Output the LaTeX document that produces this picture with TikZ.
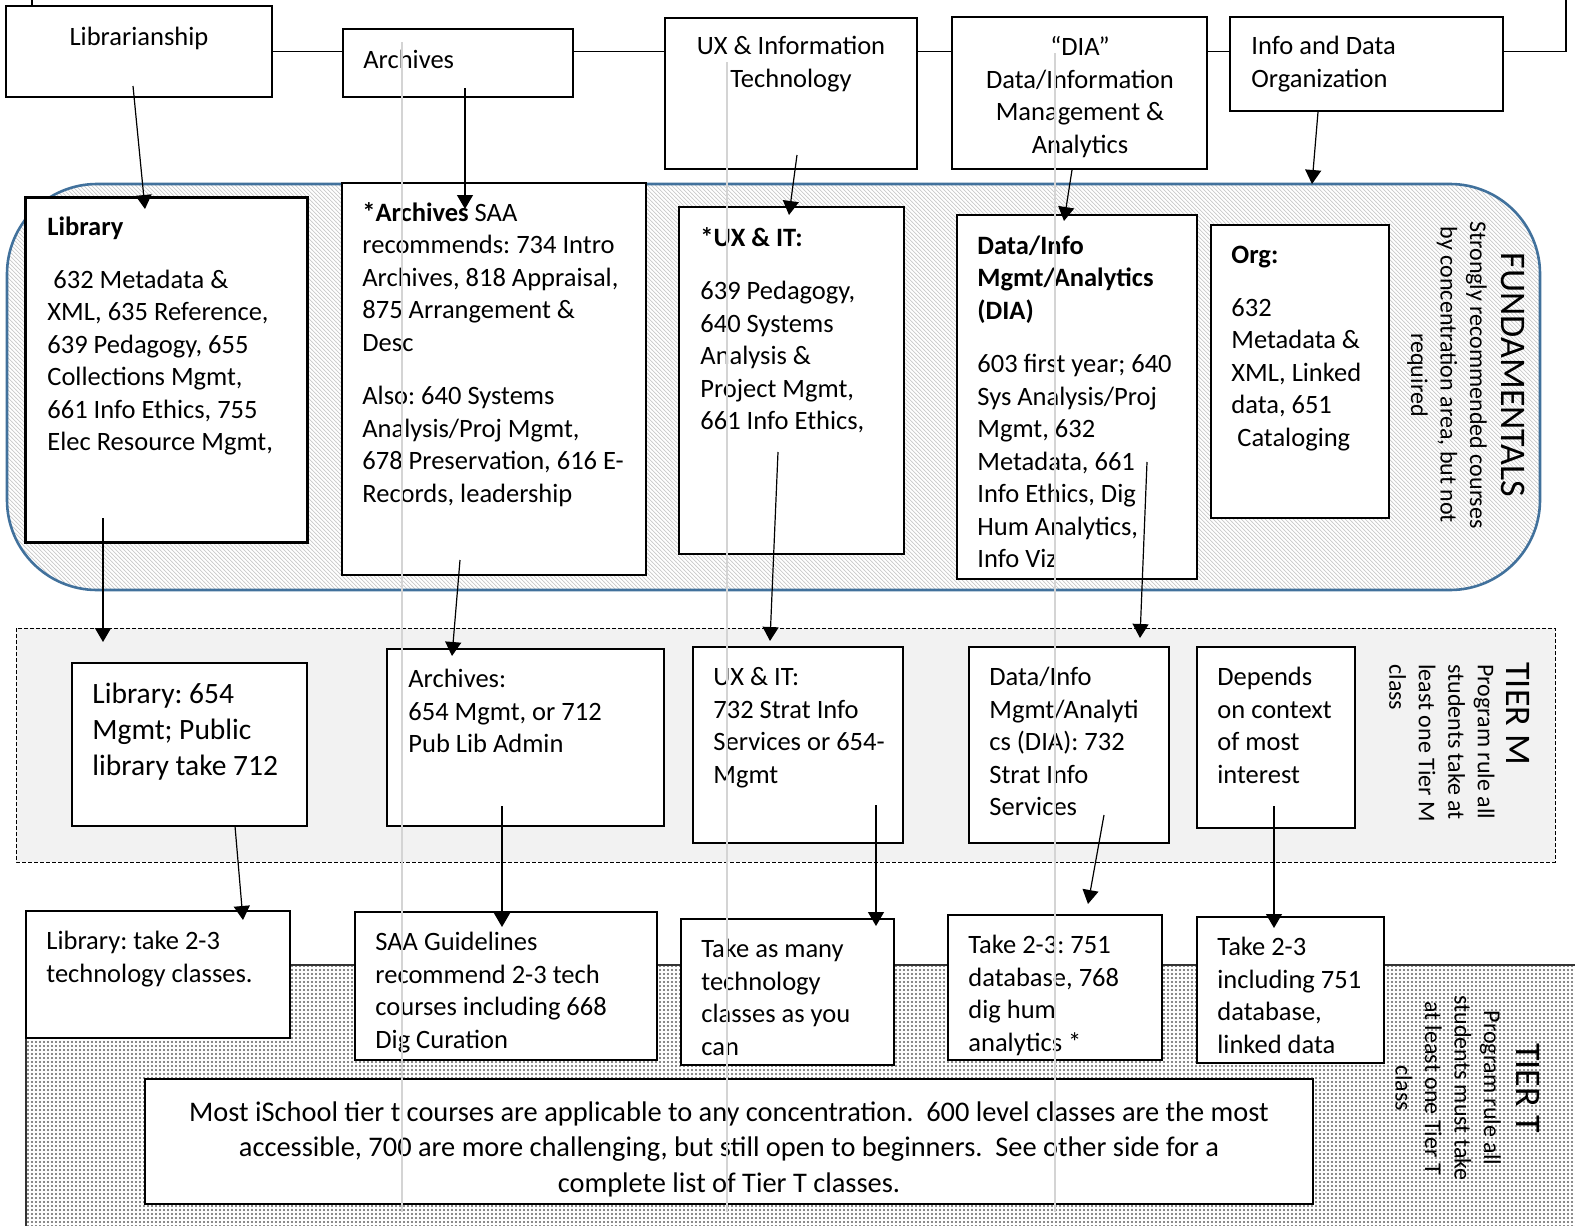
\documentclass[tikz,border=0pt]{standalone}
\usepackage{fontspec}
\setmainfont{Carlito}
\usetikzlibrary{arrows.meta,patterns,fit}
\definecolor{fundblue}{HTML}{41719C}
\definecolor{guide}{HTML}{D4D4D4}
\pgfdeclarepatternformonly{mydiag}{\pgfqpoint{-0.5pt}{-0.5pt}}{\pgfqpoint{2.5pt}{2.5pt}}{\pgfqpoint{2pt}{2pt}}{%
  \pgfsetlinewidth{0.35pt}%
  \pgfpathmoveto{\pgfqpoint{-0.1pt}{2.1pt}}%
  \pgfpathlineto{\pgfqpoint{2.1pt}{-0.1pt}}%
  \pgfusepath{stroke}}
\pgfdeclarepatternformonly{mydots}{\pgfqpoint{-1pt}{-1pt}}{\pgfqpoint{1pt}{1pt}}{\pgfqpoint{2pt}{2pt}}{%
  \pgfpathcircle{\pgfqpoint{0pt}{0pt}}{0.55pt}%
  \pgfusepath{fill}}
\newcommand\fsBody{\fontsize{13.25pt}{16.25pt}\selectfont}
\newcommand\fsMid{\fontsize{14.75pt}{18pt}\selectfont}
\newcommand\fsBig{\fontsize{14.2pt}{17.75pt}\selectfont}
\newcommand\fsTitle{\fontsize{18pt}{21pt}\selectfont}
\newcommand\fsSub{\fontsize{12pt}{14.75pt}\selectfont}
\frenchspacing
\begin{document}
\begin{tikzpicture}[x=0.5pt,y=-0.5pt,
  box/.style={draw, fill=white, inner sep=0pt, line width=1pt},
  thinbox/.style={draw, fill=white, inner sep=0pt, line width=0.6pt},
  txt/.style={anchor=north west, inner sep=0pt, align=left, font=\fsBody},
  ctxt/.style={inner sep=0pt, align=center, font=\fsBody},
  arr/.style={-{Triangle[length=7pt,width=8pt]}, line width=0.6pt},
  conn/.style={line width=0.9pt},
  gline/.style={draw=guide, line width=0.7pt}]
\useasboundingbox (0,0) rectangle (1575,1226);

% ---------- background regions ----------
\path[draw=fundblue, line width=1.3pt, rounded corners=45pt, pattern=mydiag, pattern color=gray!42]
  (7,184) rectangle (1540,590);
\path[draw=black, fill=gray!10, line width=0.5pt, dash pattern=on 2pt off 1pt]
  (16,628) rectangle (1555,862);
\fill[pattern=mydots, pattern color=black!62] (26,965) rectangle (1575,1226);
\draw[line width=0.9pt, black!80] (26,1226) -- (26,965) -- (1575,965);

% ---------- top row ----------
\node[box, fit={(6,6) (272,97)}] (libr) {};
\node[box, fit={(343,29) (573,97)}] (arch) {};
\node[box, fit={(665,18) (917,169)}] (uxit) {};
\node[box, fit={(952,17) (1207,169)}] (dia) {};
\node[box, fit={(1230,17) (1503,111)}] (idorg) {};
\node[ctxt] (librt) at (139,38) {Librarianship};
\node[txt, anchor=west] (archt) at (363,59) {Archives};
\node[ctxt, anchor=north] (uxitt) at (791,36) {UX \& Information\\Technology};
\node[ctxt, anchor=north] (diat) at (1080,36) {“DIA”\\Data/Information\\Management \&\\Analytics};
\node[txt] (idorgt) at (1251,36) {Info and Data\\Organization};

\coordinate (tl) at (32,0);
\coordinate (tr) at (1566,0);
\draw[conn] (tl) -- (tl |- libr.north);
\draw[conn] (libr.east) -- (libr.east -| arch.west);
\draw[conn] (libr.east -| arch.east) -- (libr.east -| uxit.west);
\draw[conn] (libr.east -| uxit.east) -- (libr.east -| dia.west);
\draw[conn] (libr.east -| dia.east) -- (libr.east -| idorg.west);
\draw[conn] (libr.east -| idorg.east) -| (tr);

% ---------- fundamentals ----------
\node[box, line width=1.5pt, fit={(25,197) (307,542)}] (flib) {};
\node[box, fit={(342,183) (646,575)}] (farch) {};
\node[box, fit={(679,207) (904,554)}] (fux) {};
\node[box, fit={(957,215) (1197,579)}] (fdia) {};
\node[thinbox, fit={(1211,225) (1389,518)}] (forg) {};

\node[txt] (flibt) at (47,217) {\textbf{Library}\\[10pt]\hspace{3pt}632 Metadata \&\\XML, 635 Reference,\\639 Pedagogy, 655\\Collections Mgmt,\\661 Info Ethics, 755\\Elec Resource Mgmt,};
\node[txt] (farcht) at (362,202) {\textbf{*Archives} SAA\\recommends: 734 Intro\\Archives, 818 Appraisal,\\875 Arrangement \&\\Desc\\[10.5pt]Also: 640 Systems\\Analysis/Proj Mgmt,\\678 Preservation, 616 E-\\Records, leadership};
\node[txt] (fuxt) at (700,227) {\textbf{*UX \& IT:}\\[10.5pt]639 Pedagogy,\\640 Systems\\Analysis \&\\Project Mgmt,\\661 Info Ethics,};
\node[txt] (fdiat) at (977,235) {\textbf{Data/Info}\\\textbf{Mgmt/Analytics}\\\textbf{(DIA)}\\[10.5pt]603 first year; 640\\Sys Analysis/Proj\\Mgmt, 632\\Metadata, 661\\Info Ethics, Dig\\Hum Analytics,\\Info Viz};
\node[txt] (forgt) at (1231,246) {\textbf{Org:}\\[10pt]632\\Metadata \&\\XML, Linked\\data, 651\\\hspace{3pt}Cataloging};

\node[rotate=-90, inner sep=0pt, font=\fsTitle] (fundtitle) at (1513,375) {FUNDAMENTALS};
\node[rotate=-90, inner sep=0pt, align=center, font=\fsSub] (fundsub) at (1447,375) {Strongly recommended courses\\by concentration area, but not\\required};

% ---------- tier M ----------
\node[thinbox, fit={(72,663) (307,826)}] (mlib) {};
\node[thinbox, fit={(387,649) (664,826)}] (march) {};
\node[thinbox, fit={(693,647) (903,843)}] (mux) {};
\node[thinbox, fit={(969,647) (1169,843)}] (mdia) {};
\node[thinbox, fit={(1197,647) (1355,828)}] (mdep) {};
\node[txt, font=\fsMid] (mlibt) at (92,683) {Library: 654\\Mgmt; Public\\library take 712};
\node[txt] (marcht) at (408,669) {Archives:\\654 Mgmt, or 712\\Pub Lib Admin};
\node[txt] (muxt) at (713,667) {UX \& IT:\\732 Strat Info\\Services or 654-\\Mgmt};
\node[txt] (mdiat) at (989,667) {Data/Info\\Mgmt/Analyti\\cs (DIA): 732\\Strat Info\\Services};
\node[txt] (mdept) at (1217,667) {Depends\\on context\\of most\\interest};
\node[rotate=-90, inner sep=0pt, anchor=west, font=\fsTitle] (mtitle) at (1518,662) {TIER M};
\node[rotate=-90, inner sep=0pt, anchor=north west, align=left, font=\fsSub] (msub) at (1495,664) {Program rule all\\students take at\\least one Tier M\\class};

% ---------- tier T ----------
\node[thinbox, fit={(26,911) (290,1038)}] (tlib) {};
\node[thinbox, fit={(355,912) (657,1060)}] (tsaa) {};
\node[thinbox, fit={(681,919) (894,1065)}] (tux) {};
\node[thinbox, fit={(948,915) (1162,1060)}] (tdia) {};
\node[thinbox, fit={(1197,917) (1384,1063)}] (tdep) {};
\node[thinbox, line width=0.8pt, fit={(145,1079) (1313,1204)}] (tbig) {};
\node[txt] (tlibt) at (46,931) {Library: take 2-3\\technology classes.};
\node[txt] (tsaat) at (375,932) {SAA Guidelines\\recommend 2-3 tech\\courses including 668\\Dig Curation};
\node[txt] (tuxt) at (701,939) {Take as many\\technology\\classes as you\\can};
\node[txt] (tdiat) at (968,935) {Take 2-3: 751\\database, 768\\dig hum\\analytics *};
\node[txt] (tdept) at (1217,937) {Take 2-3\\including 751\\database,\\linked data};
\node[ctxt, anchor=north, font=\fsBig] (tbigt) at (729,1101) {Most iSchool tier t courses are applicable to any concentration.\ \ 600 level classes are the most\\accessible, 700 are more challenging, but still open to beginners.\ \ See other side for a\\complete list of Tier T classes.};
\node[rotate=-90, inner sep=0pt, font=\fsTitle] (ttitle) at (1528,1088) {TIER T};
\node[rotate=-90, inner sep=0pt, align=center, font=\fsSub] (tsub) at (1448,1088) {Program rule all\\students must take\\at least one Tier T\\class};

% ---------- faint vertical guide lines ----------
\coordinate (g1a) at (402,42);  \coordinate (g1b) at (402,1212);
\coordinate (g2a) at (727,62);  \coordinate (g2b) at (727,1212);
\coordinate (g3a) at (1055,53); \coordinate (g3b) at (1055,1212);
\draw[gline] (g1a) -- (g1b);
\draw[gline] (g2a) -- (g2b);
\draw[gline] (g3a) -- (g3b);

% ---------- arrows ----------
\coordinate (a1s) at (133,86);   \coordinate (a1e) at (145,209);
\coordinate (a2s) at (465,88);   \coordinate (a2e) at (465,209);
\coordinate (a3s) at (797,155);  \coordinate (a3e) at (789,215);
\coordinate (a4s) at (1072,170); \coordinate (a4e) at (1064,221);
\coordinate (a5s) at (1318,112); \coordinate (a5e) at (1312,184);
\coordinate (b1s) at (103,518);  \coordinate (b1e) at (103,642);
\coordinate (b2s) at (460,560);  \coordinate (b2e) at (452,656);
\coordinate (b3s) at (778,452);  \coordinate (b3e) at (770,641);
\coordinate (b4s) at (1147,462); \coordinate (b4e) at (1140,638);
\coordinate (c1s) at (235,826);  \coordinate (c1e) at (243,920);
\coordinate (c2s) at (502,806);  \coordinate (c2e) at (502,927);
\coordinate (c3s) at (876,805);  \coordinate (c3e) at (876,926);
\coordinate (c4s) at (1104,815); \coordinate (c4e) at (1088,904);
\coordinate (c5s) at (1274,806); \coordinate (c5e) at (1274,928);
\foreach \p in {a1,a2,a3,a4,a5,b1,b2,b3,b4,c1,c2,c3,c4,c5}
  \draw[arr] (\p s) -- (\p e);
\end{tikzpicture}
\end{document}
